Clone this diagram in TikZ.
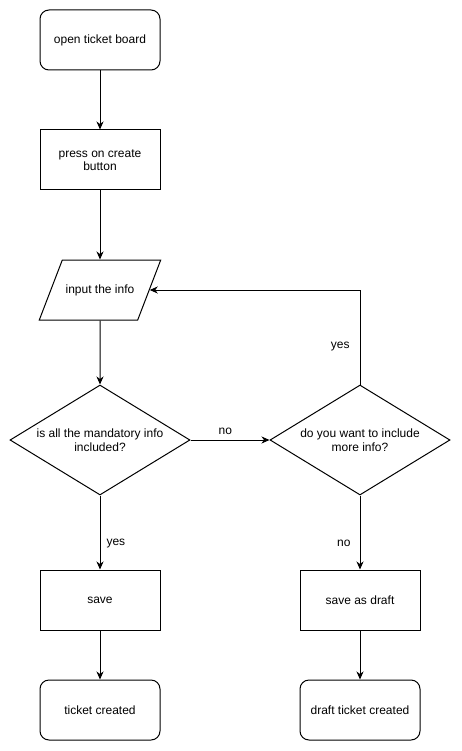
\documentclass[tikz,border=0pt]{standalone}
\usepackage{fontspec}
\setmainfont{Liberation Sans}
\usetikzlibrary{positioning}
\usetikzlibrary{arrows.meta,shapes.geometric}

\begin{document}
\begin{tikzpicture}[x=1pt,y=-1pt,
  box/.style={draw,line width=1pt,fill=white,minimum width=120pt,minimum height=60pt,
    align=center,font=\fontsize{12}{13.5}\selectfont},
  terminal/.style={box,rounded corners=9pt},
  io/.style={box,trapezium,trapezium left angle=69,trapezium right angle=111,
    trapezium stretches body=true,minimum height=0pt,minimum width=120pt,
    text height=9pt,text depth=3pt,inner ysep=24pt},
  decision/.style={box,diamond,aspect=1.636,minimum width=180pt,minimum height=110pt,inner sep=0pt},
  flow/.style={line width=1pt,-{Stealth[length=8pt,width=7pt,inset=2.5pt]}},
  lbl/.style={inner sep=0pt,font=\fontsize{12}{13.5}\selectfont}]

\useasboundingbox[fill=white] (0,0) rectangle (461,751);

% left column
\node[terminal] (open) at (100,40) {open ticket board};
\node[box] (press) at (100,160) {press on create\\button};
\node[io] (input) at (100,290) {input the info};
\node[decision] (mandatory) at (100,440) {is all the mandatory info\\included?};
\node[box] (save) at (100,600) {save};
\node[terminal] (created) at (100,710) {ticket created};

% right column
\node[decision] (more) at (360,440) {do you want to include\\more info?};
\node[box] (draft) at (360,600) {save as draft};
\node[terminal] (draftcreated) at (360,710) {draft ticket created};

% connectors
\draw[flow] (open) -- (press);
\draw[flow] (press) -- (input);
\draw[flow] (input) -- (mandatory);
\draw[flow] (mandatory) -- node[lbl,above=5pt,pos=0.44]{no} (more);
\draw[flow] (mandatory) -- node[lbl,right=6pt,pos=0.65]{yes} (save);
\draw[flow] (more) -- node[lbl,left=9pt,pos=0.65]{no} (draft);
\draw[flow] (more) |- node[lbl,left=10pt,pos=0.2]{yes} (input);
\draw[flow] (save) -- (created);
\draw[flow] (draft) -- (draftcreated);

\end{tikzpicture}
\end{document}
